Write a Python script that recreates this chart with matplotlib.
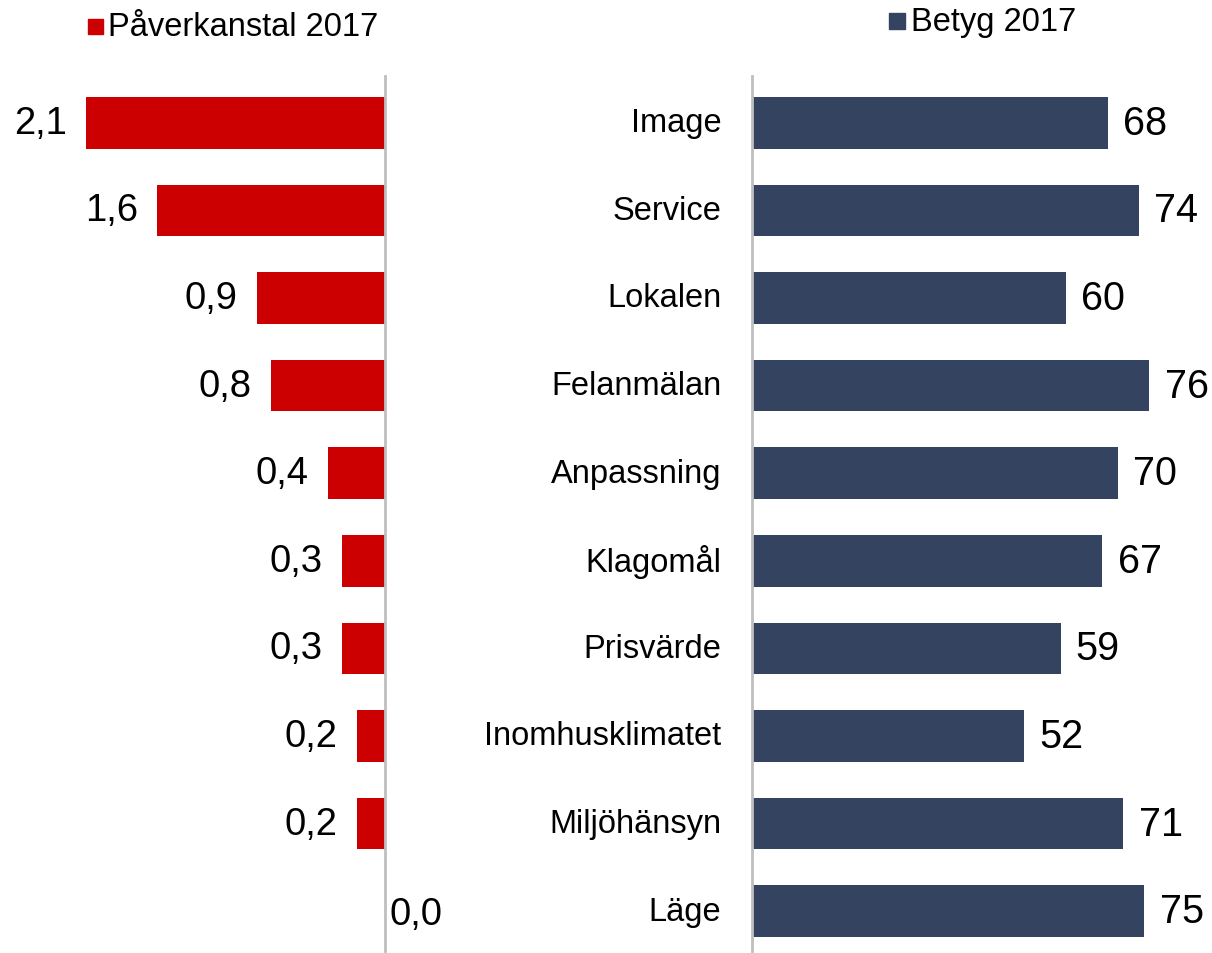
import matplotlib
matplotlib.use("Agg")
import matplotlib.pyplot as plt
from matplotlib.patches import Rectangle

plt.rcParams['font.family'] = ['Liberation Sans', 'DejaVu Sans']

categories = ["Image", "Service", "Lokalen", "Felanmälan", "Anpassning",
              "Klagomål", "Prisvärde", "Inomhusklimatet", "Miljöhänsyn", "Läge"]
paverkan = [2.1, 1.6, 0.9, 0.8, 0.4, 0.3, 0.3, 0.2, 0.2, 0.0]
betyg = [68, 74, 60, 76, 70, 67, 59, 52, 71, 75]
legend_left = "Påverkanstal 2017"
legend_right = "Betyg 2017"

RED = "#CC0000"
NAVY = "#344360"
AXC = "#BFBFBF"

W, H = 1212, 954
fig = plt.figure(figsize=(W / 100, H / 100), dpi=100)

top_px, bot_px = 80, 956
ax_b = 1 - bot_px / H
ax_h = (bot_px - top_px) / H

# Left panel
zero_l = 385
scale_l = 142.3
axL = fig.add_axes([0, ax_b, zero_l / W, ax_h])
axL.set_xlim(zero_l / scale_l, 0)
axL.set_ylim(len(categories) - 0.5, -0.5)
ypos = list(range(len(categories)))
axL.barh(ypos, paverkan, height=0.59, color=RED)
for y, v in zip(ypos, paverkan):
    s = f"{v:.1f}".replace(".", ",")
    if v > 0:
        axL.annotate(s, (v, y), xytext=(-14, 0), textcoords="offset points",
                     ha="right", va="center", fontsize=27.5, color="black")
    else:
        axL.annotate(s, (v, y), xytext=(3, -2), textcoords="offset points",
                     ha="left", va="center", fontsize=27.5, color="black",
                     annotation_clip=False, clip_on=False)
axL.axis("off")
axL.plot([0, 0], [-0.53, 9.45], color=AXC, lw=2, clip_on=False)

# Right panel
zero_r = 752
scale_r = 5.23
axR = fig.add_axes([zero_r / W, ax_b, (W - zero_r) / W, ax_h])
axR.set_xlim(0, (W - zero_r) / scale_r)
axR.set_ylim(len(categories) - 0.5, -0.5)
axR.barh(ypos, betyg, height=0.59, color=NAVY)
for y, v, c in zip(ypos, betyg, categories):
    axR.annotate(str(v), (v, y), xytext=(11, 0), textcoords="offset points",
                 ha="left", va="center", fontsize=28.5, color="black")
    axR.annotate(c, (0, y), xytext=(-22, 0), textcoords="offset points",
                 ha="right", va="center", fontsize=23.5, color="black",
                 annotation_clip=False)
axR.axis("off")
axR.plot([0, 0], [-0.53, 9.45], color=AXC, lw=2, clip_on=False)

# Legends
fig.add_artist(Rectangle((88 / W, 1 - 35 / H), 15 / W, 15 / H,
                         transform=fig.transFigure, color=RED))
fig.text(108 / W, 1 - 28 / H, legend_left, fontsize=23.5, va="center", ha="left")
fig.add_artist(Rectangle((889 / W, 1 - 30 / H), 16 / W, 16 / H,
                         transform=fig.transFigure, color=NAVY))
fig.text(911 / W, 1 - 22 / H, legend_right, fontsize=23.5, va="center", ha="left")

fig.savefig("out.png", dpi=100)
